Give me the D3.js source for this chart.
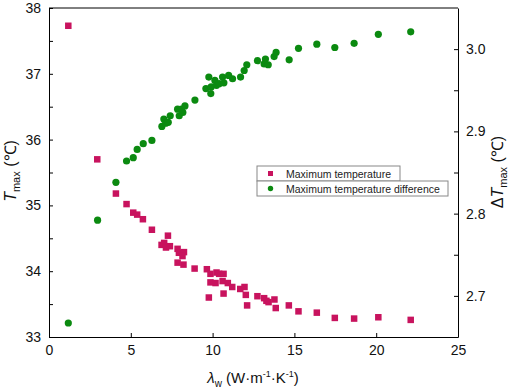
<!DOCTYPE html>
<html>
<head>
<meta charset="utf-8">
<script src="https://cdn.jsdelivr.net/npm/d3@7"></script>
<style>
  body { margin: 0; background: #fff; }
  text { font-family: "Liberation Sans", Arial, sans-serif; }
</style>
</head>
<body>
<div id="chart"></div>
<script>
{
  // Maximum temperature (left axis)
  const tempX = [1.18, 2.95, 4.09, 4.74, 5.15, 5.39, 5.74, 6.29, 7.27, 6.88, 7.04, 7.15, 7.39, 7.86, 7.94, 8.25, 8.16, 7.86, 8.22, 8.90,
    9.65, 9.87, 10.24, 10.40, 10.67, 9.87, 10.18, 10.61, 10.93, 11.20, 11.69, 11.95, 12.03, 12.11, 9.77, 10.67, 12.74, 13.15, 13.29, 13.42,
    13.78, 13.86, 14.66, 15.25, 16.37, 17.47, 18.65, 20.13, 22.11];
  const tempY = [37.73, 35.70, 35.18, 35.02, 34.89, 34.86, 34.79, 34.63, 34.54, 34.40, 34.43, 34.36, 34.38, 34.34, 34.28, 34.29, 34.23, 34.13, 34.10, 34.04,
    34.03, 33.96, 33.98, 33.96, 33.96, 33.83, 33.82, 33.85, 33.82, 33.76, 33.73, 33.76, 33.64, 33.48, 33.60, 33.66, 33.62, 33.59, 33.55, 33.53,
    33.57, 33.44, 33.48, 33.39, 33.37, 33.29, 33.28, 33.30, 33.26];

  // Maximum temperature difference (right axis)
  const diffX = [1.18, 2.97, 4.09, 4.74, 5.15, 5.39, 5.76, 6.29, 6.90, 7.02, 7.13, 7.29, 7.41, 7.86, 7.96, 8.10, 8.18, 8.31, 8.92, 9.59,
    9.77, 9.89, 9.91, 10.14, 10.24, 10.40, 10.61, 10.69, 10.98, 11.22, 11.71, 11.93, 12.09, 12.74, 13.23, 13.15, 13.40, 13.76, 13.88, 14.68,
    15.25, 16.37, 17.47, 18.65, 20.13, 22.11];
  const diffY = [2.667, 2.792, 2.838, 2.864, 2.868, 2.878, 2.885, 2.889, 2.906, 2.915, 2.910, 2.911, 2.919, 2.927, 2.919, 2.927, 2.923, 2.931, 2.938, 2.952,
    2.966, 2.946, 2.954, 2.962, 2.956, 2.958, 2.966, 2.959, 2.968, 2.964, 2.966, 2.974, 2.981, 2.986, 2.988, 2.982, 2.981, 2.991, 2.996, 2.987,
    3.001, 3.006, 3.002, 3.007, 3.018, 3.021];

  const xTicks = [0, 5, 10, 15, 20, 25];
  const leftTicks = [33, 34, 35, 36, 37, 38];
  const leftMinor = [33.5, 34.5, 35.5, 36.5, 37.5];
  const rightTicks = [2.7, 2.8, 2.9, 3.0];
  const rightMinor = [2.75, 2.85, 2.95];

  const RED = "#c8135e";
  const GREEN = "#0b8a10";

  const width = 512, height = 391;
  const margin = { left: 49, right: 54, top: 8, bottom: 54 };

  const svg = d3.select("#chart").append("svg")
    .attr("width", width)
    .attr("height", height);

  const x = d3.scaleLinear().domain([0, 25]).range([margin.left, width - margin.right]);
  const yL = d3.scaleLinear().domain([33, 38]).range([height - margin.bottom, margin.top]);
  const yR = d3.scaleLinear().domain([2.65, 3.05]).range([height - margin.bottom, margin.top]);

  const tickLen = 4;

  // bottom axis
  svg.append("g")
    .attr("transform", `translate(0,${height - margin.bottom})`)
    .call(d3.axisBottom(x).tickValues(xTicks).tickSizeInner(-tickLen).tickSizeOuter(0).tickPadding(8).tickFormat(d3.format("d")));

  // left axis
  svg.append("g")
    .attr("transform", `translate(${margin.left},0)`)
    .call(d3.axisLeft(yL).tickValues(leftTicks).tickSizeInner(-tickLen).tickSizeOuter(0).tickPadding(8).tickFormat(d3.format("d")));
  svg.append("g")
    .attr("transform", `translate(${margin.left},0)`)
    .call(d3.axisLeft(yL).tickValues(leftMinor).tickSizeInner(-tickLen).tickSizeOuter(0).tickFormat(""))
    .select(".domain").remove();

  // right axis
  svg.append("g")
    .attr("transform", `translate(${width - margin.right},0)`)
    .call(d3.axisRight(yR).tickValues(rightTicks).tickSizeInner(-tickLen).tickSizeOuter(0).tickPadding(8).tickFormat(d3.format(".1f")));
  svg.append("g")
    .attr("transform", `translate(${width - margin.right},0)`)
    .call(d3.axisRight(yR).tickValues(rightMinor).tickSizeInner(-tickLen).tickSizeOuter(0).tickFormat(""))
    .select(".domain").remove();

  // top border
  svg.append("line")
    .attr("x1", margin.left).attr("x2", width - margin.right)
    .attr("y1", margin.top).attr("y2", margin.top)
    .attr("stroke", "#000");

  svg.selectAll(".tick text").attr("font-size", 14).attr("fill", "#111")
    .attr("font-family", "'Liberation Sans', Arial, sans-serif");
  svg.selectAll(".domain, .tick line").attr("stroke", "#000").attr("stroke-width", 1);

  // data
  const sq = 6.5;
  svg.append("g").selectAll("rect")
    .data(tempX.map((d, i) => [d, tempY[i]]))
    .enter().append("rect")
    .attr("x", d => x(d[0]) - sq / 2)
    .attr("y", d => yL(d[1]) - sq / 2)
    .attr("width", sq).attr("height", sq)
    .attr("fill", RED);

  svg.append("g").selectAll("circle")
    .data(diffX.map((d, i) => [d, diffY[i]]))
    .enter().append("circle")
    .attr("cx", d => x(d[0]))
    .attr("cy", d => yR(d[1]))
    .attr("r", 3.6)
    .attr("fill", GREEN);

  // legend
  const lg = svg.append("g").attr("transform", "translate(257,166)");
  lg.append("rect").attr("x", 0).attr("y", 0).attr("width", 143).attr("height", 15)
    .attr("fill", "#fff").attr("stroke", "#888");
  lg.append("rect").attr("x", 0).attr("y", 15).attr("width", 191).attr("height", 15)
    .attr("fill", "#fff").attr("stroke", "#888");
  lg.append("rect").attr("x", 11).attr("y", 5).attr("width", 5).attr("height", 5).attr("fill", RED);
  lg.append("circle").attr("cx", 13.5).attr("cy", 22.5).attr("r", 2.7).attr("fill", GREEN);
  lg.append("text").attr("x", 29).attr("y", 12).attr("font-size", 10.5).attr("fill", "#222").text("Maximum temperature");
  lg.append("text").attr("x", 29).attr("y", 27).attr("font-size", 10.5).attr("fill", "#222").text("Maximum temperature difference");

  // axis titles
  const xt = svg.append("text")
    .attr("x", 253).attr("y", 383)
    .attr("text-anchor", "middle")
    .attr("font-size", 15)
    .attr("fill", "#111");
  xt.append("tspan").attr("font-style", "italic").text("λ");
  xt.append("tspan").attr("font-size", 10).attr("dy", 4).text("w");
  xt.append("tspan").attr("dy", -4).text(" (W·m");
  xt.append("tspan").attr("font-size", 9).attr("dy", -6).text("-1");
  xt.append("tspan").attr("dy", 6).text("·K");
  xt.append("tspan").attr("font-size", 9).attr("dy", -6).text("-1");
  xt.append("tspan").attr("dy", 6).text(")");

  const yt = svg.append("text")
    .attr("transform", "translate(16,171) rotate(-90)")
    .attr("text-anchor", "middle")
    .attr("font-size", 16)
    .attr("fill", "#111");
  yt.append("tspan").attr("font-style", "italic").text("T");
  yt.append("tspan").attr("font-size", 11).attr("dy", 4).text("max");
  yt.append("tspan").attr("dy", -4).text(" (℃)");

  const rt = svg.append("text")
    .attr("transform", "translate(503,172) rotate(-90)")
    .attr("text-anchor", "middle")
    .attr("font-size", 16)
    .attr("fill", "#111");
  rt.append("tspan").text("Δ");
  rt.append("tspan").attr("font-style", "italic").text("T");
  rt.append("tspan").attr("font-size", 11).attr("dy", 4).text("max");
  rt.append("tspan").attr("dy", -4).text(" (℃)");
}
</script>
</body>
</html>
